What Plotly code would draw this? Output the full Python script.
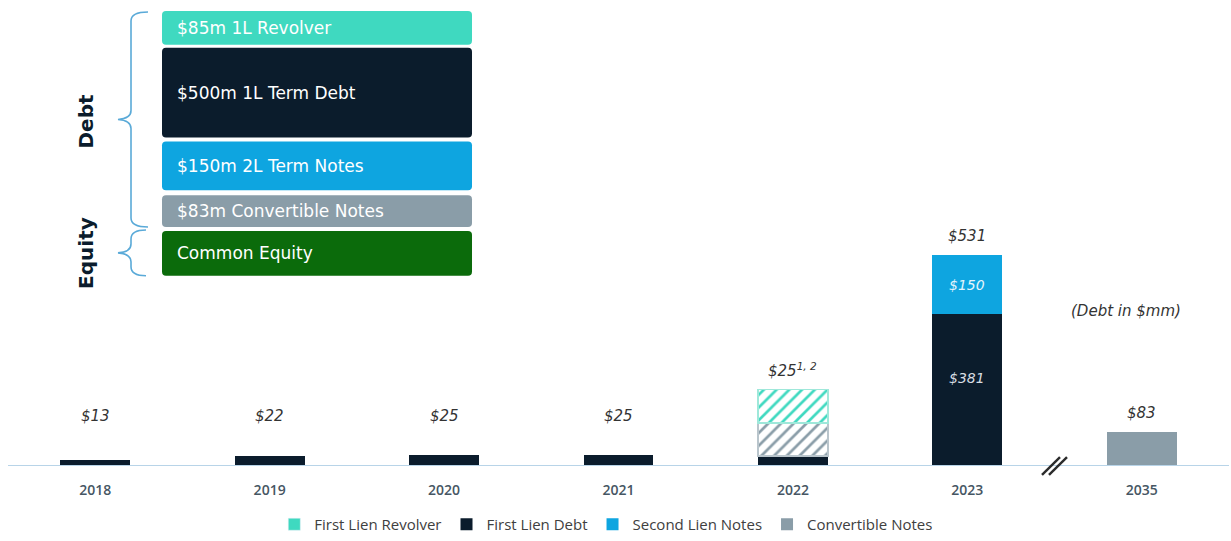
import plotly.graph_objects as go

# ---- data ----
years = ["2018", "2019", "2020", "2021", "2022", "2023", "2035"]
first_lien_debt = [13, 22, 25, 25, 23, 381, None]
second_lien_notes = [None, None, None, None, None, 150, None]
convertible_notes = [None, None, None, None, None, None, 83]
convertible_hatched = [None, None, None, None, 83, None, None]
revolver_hatched = [None, None, None, None, 85, None, None]
total_labels = ["$13", "$22", "$25", "$25", "$25<sup>1, 2</sup>", "$531", "$83"]

box_labels = ["$85m 1L Revolver", "$500m 1L Term Debt", "$150m 2L Term Notes",
              "$83m Convertible Notes", "Common Equity"]

C_REV = "#3FD9C0"
C_1L = "#0B1C2C"
C_2L = "#0EA5E0"
C_CONV = "#8A9DA8"
C_EQ = "#0B6B0B"
C_BRACE = "#5AAAD8"
TXT = "#333333"
FONT = "Open Sans"
WIDE = "DejaVu Sans"

W, H = 1231, 541
ML, MR, MT, MB = 8, 2, 0, 74
PW, PH = W - ML - MR, H - MT - MB


def px(x):
    return (x - ML) / PW


def py(y):
    return (H - MB - y) / PH


fig = go.Figure()

fig.add_trace(go.Bar(x=years, y=first_lien_debt, name="First Lien Debt",
                     marker=dict(color=C_1L, line=dict(width=0)), legendrank=2,
                     hoverinfo="skip"))
fig.add_trace(go.Bar(x=years, y=second_lien_notes, name="Second Lien Notes",
                     marker=dict(color=C_2L, line=dict(width=0)), legendrank=3,
                     hoverinfo="skip"))
fig.add_trace(go.Bar(x=years, y=convertible_notes, name="Convertible Notes",
                     marker=dict(color=C_CONV, line=dict(width=0)), legendrank=4,
                     hoverinfo="skip"))
fig.add_trace(go.Bar(x=years, y=convertible_hatched, showlegend=False,
                     marker=dict(color=C_CONV, line=dict(color="#b9c5cc", width=1.5),
                                 pattern=dict(shape="/", fgcolor=C_CONV, bgcolor="white",
                                              size=9, solidity=0.3, fillmode="replace")),
                     hoverinfo="skip"))
fig.add_trace(go.Bar(x=years, y=revolver_hatched, showlegend=False,
                     marker=dict(color=C_REV, line=dict(color="#9fe8da", width=1.5),
                                 pattern=dict(shape="/", fgcolor=C_REV, bgcolor="white",
                                              size=9, solidity=0.3, fillmode="replace")),
                     hoverinfo="skip"))
# legend entry for revolver (solid swatch)
fig.add_trace(go.Bar(x=[None], y=[None], name="First Lien Revolver",
                     marker=dict(color=C_REV), legendrank=1))

# totals above bars
for i, yr in enumerate(years):
    top = sum(v for v in (first_lien_debt[i], second_lien_notes[i], convertible_notes[i],
                          convertible_hatched[i], revolver_hatched[i]) if v)
    fig.add_annotation(x=i, y=max(top + 48, 123), text=total_labels[i], showarrow=False,
                       xanchor="center", yanchor="middle",
                       font=dict(family=WIDE, size=15, color=TXT, style="italic"))

# segment labels inside the 2023 bar
i23 = years.index("2023")
fig.add_annotation(x=i23, y=first_lien_debt[i23] * 0.575, text=f"${first_lien_debt[i23]}",
                   showarrow=False, xanchor="center", yanchor="middle",
                   font=dict(family=WIDE, size=14, color="#d8dde2", style="italic"))
fig.add_annotation(x=i23, y=first_lien_debt[i23] + second_lien_notes[i23] / 2,
                   text=f"${second_lien_notes[i23]}",
                   showarrow=False, xanchor="center", yanchor="middle",
                   font=dict(family=WIDE, size=14, color="#e3f4fc", style="italic"))

# axis break marker (two slanted strokes)
for dx in (0, 7):
    fig.add_shape(type="line", xref="paper", yref="paper",
                  x0=px(1042 + dx), y0=py(477), x1=px(1060 + dx), y1=py(459),
                  line=dict(color="#2b2b2b", width=2.4))

# units note
fig.add_annotation(xref="paper", yref="paper", x=px(1126), y=py(312), text="(Debt in $mm)",
                   showarrow=False, xanchor="center", yanchor="middle",
                   font=dict(family=WIDE, size=15, color=TXT, style="italic"))

# left capital structure panel
boxes = [(11, 45, C_REV), (48, 138, C_1L), (142, 191, C_2L), (196, 228, C_CONV), (232, 277, C_EQ)]
X0, X1 = 162, 472


def rounded(x0, y0, x1, y1, r=4):
    def P(x, y):
        return f"{px(x):.5f},{py(y):.5f}"
    return " ".join([
        f"M {P(x0 + r, y0)}", f"L {P(x1 - r, y0)}", f"Q {P(x1, y0)} {P(x1, y0 + r)}",
        f"L {P(x1, y1 - r)}", f"Q {P(x1, y1)} {P(x1 - r, y1)}", f"L {P(x0 + r, y1)}",
        f"Q {P(x0, y1)} {P(x0, y1 - r)}", f"L {P(x0, y0 + r)}", f"Q {P(x0, y0)} {P(x0 + r, y0)} Z"])


for (y0, y1, col), lab in zip(boxes, box_labels):
    fig.add_shape(type="path", xref="paper", yref="paper", path=rounded(X0, y0, X1, y1),
                  fillcolor=col, line=dict(width=0), layer="above")
    fig.add_annotation(xref="paper", yref="paper", x=px(175), y=py((y0 + y1) / 2),
                       xanchor="left", yanchor="middle", text=lab, showarrow=False,
                       font=dict(family=WIDE, size=17, color="white"))


def brace(top, bottom, tip_y, xe=148, xv=131, xt=118):
    def P(x, y):
        return f"{px(x):.5f},{py(y):.5f}"
    return (f"M {P(xe, top)} Q {P(xv, top)} {P(xv, top + 9)} L {P(xv, tip_y - 9)} "
            f"Q {P(xv, tip_y - 1)} {P(xt, tip_y)} Q {P(xv, tip_y + 1)} {P(xv, tip_y + 9)} "
            f"L {P(xv, bottom - 9)} Q {P(xv, bottom)} {P(xe, bottom)}")


fig.add_shape(type="path", xref="paper", yref="paper", path=brace(12, 228, 120),
              line=dict(color=C_BRACE, width=1.6))
fig.add_shape(type="path", xref="paper", yref="paper", path=brace(231, 277, 254, xe=146),
              line=dict(color=C_BRACE, width=1.6))

fig.add_annotation(xref="paper", yref="paper", x=px(86), y=py(122), text="<b>Debt</b>",
                   textangle=-90, showarrow=False, xanchor="center", yanchor="middle",
                   font=dict(family=WIDE, size=20, color=C_1L))
fig.add_annotation(xref="paper", yref="paper", x=px(86), y=py(254), text="<b>Equity</b>",
                   textangle=-90, showarrow=False, xanchor="center", yanchor="middle",
                   font=dict(family=WIDE, size=20, color=C_1L))

fig.update_layout(
    width=W, height=H,
    margin=dict(l=ML, r=MR, t=MT, b=MB),
    barmode="stack", bargap=0.6,
    plot_bgcolor="white", paper_bgcolor="white",
    showlegend=True,
    legend=dict(orientation="h", x=0.49, xanchor="center", y=py(527), yanchor="middle",
                font=dict(family=FONT, size=15, color="#404040"), traceorder="normal",
                itemwidth=30),
    xaxis=dict(type="category", categoryorder="array", categoryarray=years,
               range=[-0.5, 6.5], showline=True, linecolor="#B8D4E8", linewidth=1,
               showgrid=False, zeroline=False, ticks="", ticklabelstandoff=12,
               tickfont=dict(family=FONT, size=14, color="#465663", weight=600)),
    yaxis=dict(range=[0, 1175], visible=False, showgrid=False, zeroline=False),
)

fig.write_html("out.html")
